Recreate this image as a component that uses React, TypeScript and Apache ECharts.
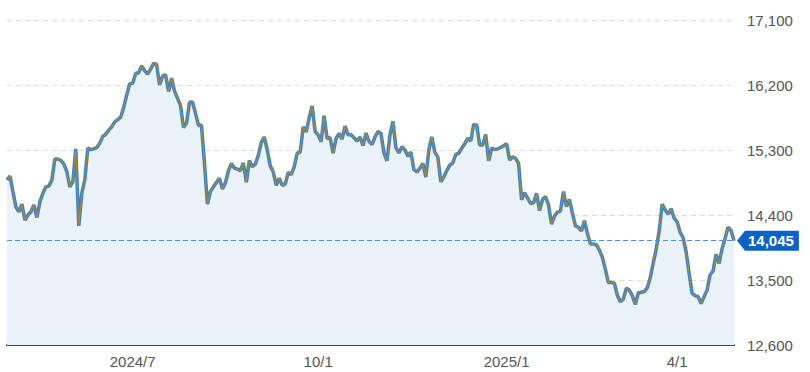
import React, { useEffect, useRef } from "react";
import * as echarts from "echarts";

// Trading days (TSE) from 2024/4/30 to 2025/4/28
const startDate = "2024-04-30";
const endDate = "2025-04-28";
const holidays = [
  "2024-05-03", "2024-05-06", "2024-07-15", "2024-08-12", "2024-09-16", "2024-09-23",
  "2024-10-14", "2024-11-04", "2024-12-31", "2025-01-01", "2025-01-02", "2025-01-03",
  "2025-01-13", "2025-02-11", "2025-02-24", "2025-03-20",
];

const tickMonths = ["2024-07", "2024-10", "2025-01", "2025-04"];
const tickLabels = ["2024/7", "10/1", "2025/1", "4/1"];

const yTicks = [12600, 13500, 14400, 15300, 16200, 17100];

const values = [
  14885, 14940, 14720, 14510, 14445, 14550, 14330, 14400, 14445, 14540,
  14365, 14585, 14700, 14790, 14800, 14885, 15175, 15175, 15155, 15105,
  15000, 14790, 14860, 15315, 14250, 14700, 14885, 15325, 15305, 15315,
  15335, 15395, 15485, 15520, 15575, 15620, 15690, 15720, 15755, 15890,
  16060, 16215, 16225, 16360, 16370, 16465, 16400, 16350, 16420, 16500,
  16485, 16200, 16325, 16340, 16110, 16295, 16115, 16015, 15915, 15610,
  15670, 15960, 15965, 15810, 15640, 15645, 15120, 14550, 14725, 14790,
  14850, 14910, 14760, 14845, 15010, 15115, 15050, 15035, 15015, 15120,
  14855, 15155, 15070, 15105, 15225, 15405, 15480, 15300, 15080, 14995,
  14810, 14910, 14810, 14830, 14990, 14960, 15065, 15255, 15270, 15620,
  15550, 15745, 15910, 15555, 15510, 15415, 15775, 15460, 15470, 15255,
  15460, 15530, 15450, 15630, 15510, 15510, 15470, 15425, 15480, 15360,
  15535, 15420, 15375, 15480, 15555, 15530, 15260, 15150, 15510, 15695,
  15330, 15260, 15345, 15300, 15215, 15270, 15030, 14995, 15045, 15115,
  14925, 15300, 15480, 15270, 15205, 14860, 14925, 15015, 15090, 15120,
  15240, 15255, 15325, 15385, 15460, 15425, 15655, 15645, 15370, 15370,
  15515, 15150, 15325, 15310, 15315, 15335, 15360, 15385, 15160, 15205,
  15185, 15115, 14610, 14710, 14635, 14560, 14570, 14700, 14460, 14615,
  14655, 14540, 14275, 14385, 14440, 14455, 14725, 14515, 14615, 14425,
  14250, 14230, 14180, 14320, 14145, 14000, 14000, 13985, 13915, 13815,
  13650, 13465, 13465, 13455, 13290, 13200, 13235, 13385, 13360, 13285,
  13160, 13320, 13330, 13340, 13390, 13530, 13735, 13930, 14180, 14550,
  14470, 14410, 14485, 14355, 14305, 14160, 14085, 13890, 13595, 13315,
  13285, 13270, 13175, 13270, 13360, 13570, 13625, 13855, 13730, 13930,
  14075, 14230, 14190, 14045,
];

function tradingDays(): string[] {
  const out: string[] = [];
  const d = new Date(startDate + "T00:00:00Z");
  const end = new Date(endDate + "T00:00:00Z");
  while (d.getTime() <= end.getTime()) {
    const wd = d.getUTCDay();
    const s = d.toISOString().slice(0, 10);
    if (wd !== 0 && wd !== 6 && !holidays.includes(s)) out.push(s);
    d.setUTCDate(d.getUTCDate() + 1);
  }
  return out;
}

const FONT = "'Liberation Sans', Arial, Helvetica, sans-serif";

export default function App() {
  const ref = useRef<HTMLDivElement>(null);
  useEffect(() => {
    if (!ref.current) return;
    const chart = echarts.init(ref.current, null, { renderer: "svg" });
    const dates = tradingDays();
    const labelMap: Record<number, string> = {};
    tickMonths.forEach((m, k) => {
      const idx = dates.findIndex((d) => d.startsWith(m));
      if (idx >= 0) labelMap[idx] = tickLabels[k];
    });
    const lastIdx = values.length - 1;
    const last = values[lastIdx];
    const fmt = (v: number) => v.toLocaleString("en-US");

    chart.setOption({
      animation: false,
      grid: { left: 7, right: 76, top: 20, bottom: 27 },
      xAxis: {
        type: "category",
        data: dates,
        boundaryGap: false,
        axisLine: { lineStyle: { color: "#3d4650", width: 2 } },
        axisTick: { show: false },
        splitLine: { show: false },
        axisLabel: {
          interval: (i: number) => labelMap[i] !== undefined,
          formatter: (_v: string, i: number) => labelMap[i] || "",
          color: "#555",
          fontSize: 15,
          fontFamily: FONT,
          margin: 9,
        },
      },
      yAxis: {
        type: "value",
        position: "right",
        min: yTicks[0],
        max: yTicks[yTicks.length - 1],
        interval: 900,
        axisLine: { show: false },
        axisTick: { show: false },
        axisLabel: {
          formatter: (v: number) => fmt(v),
          color: "#555",
          fontSize: 15,
          fontFamily: FONT,
          margin: 13,
        },
        splitLine: { lineStyle: { color: "#dcdcdc", type: [5, 4], width: 1 } },
      },
      series: [
        {
          type: "line",
          data: values,
          symbol: "none",
          lineStyle: { color: "#3a80c6", width: 3.5 },
          areaStyle: { color: "#eaf2fa", origin: "start", opacity: 1 },
          z: 2,
          markLine: {
            silent: true,
            symbol: "none",
            lineStyle: { color: "#4a8fe0", type: [5, 3], width: 1 },
            data: [{ yAxis: last }],
            label: {
              show: true,
              position: "end",
              distance: 11,
              formatter: () => fmt(last),
              backgroundColor: "#0a63c4",
              color: "#fff",
              fontWeight: "bold",
              fontSize: 15,
              fontFamily: FONT,
              padding: [3, 5, 2, 3],
            },
          },
        },
        {
          type: "line",
          data: values,
          symbol: "none",
          silent: true,
          lineStyle: { color: "#a88b3f", width: 1.1 },
          z: 3,
        },
      ],
    });

    const p = chart.convertToPixel({ seriesIndex: 0 }, [lastIdx, last]) as number[];
    if (p) {
      const [px, py] = p;
      chart.setOption({
        graphic: [
          {
            type: "polygon",
            shape: { points: [[px + 3, py], [px + 11, py - 10], [px + 11, py + 10]] },
            style: { fill: "#0a63c4" },
            z: 10,
          },
        ],
      });
    }
    return () => chart.dispose();
  }, []);
  return (
    <div
      ref={ref}
      style={{ position: "fixed", left: 0, top: 0, width: 810, height: 372, background: "#fff" }}
    />
  );
}
